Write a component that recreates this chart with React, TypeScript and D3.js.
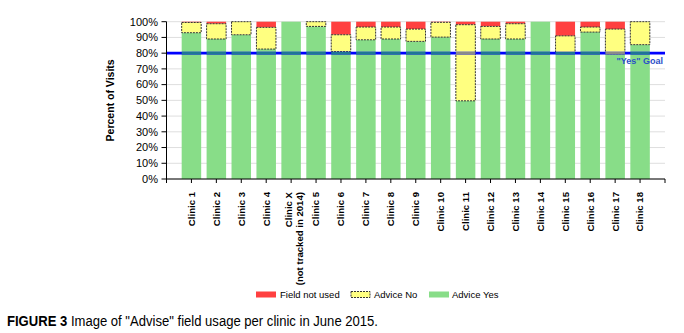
import React from "react";
import * as d3 from "d3";

const clinics = [
  "Clinic 1", "Clinic 2", "Clinic 3", "Clinic 4", "Clinic X|(not tracked in 2014)",
  "Clinic 5", "Clinic 6", "Clinic 7", "Clinic 8", "Clinic 9", "Clinic 10",
  "Clinic 11", "Clinic 12", "Clinic 13", "Clinic 14", "Clinic 15", "Clinic 16",
  "Clinic 17", "Clinic 18",
];
const adviceYes = [93, 89, 91.7, 82.6, 100, 97, 81, 88.5, 89, 87.5, 90.2, 49.7, 89, 89, 100, 80, 93.4, 79.6, 85.4];
const adviceNo = [6.5, 9.7, 8.3, 13.8, 0, 3, 10.7, 8.1, 7.6, 7.8, 9.4, 48.4, 8, 9.7, 0, 11, 3.2, 15.7, 14.6];
const fieldNotUsed = [0.5, 1.3, 0, 3.6, 0, 0, 8.3, 3.4, 3.4, 4.7, 0.4, 1.9, 3, 1.3, 0, 9, 3.4, 4.7, 0];
const yTicks = [0, 10, 20, 30, 40, 50, 60, 70, 80, 90, 100];
const goal = 80;

const GREEN = "#88DD88";
const YELLOW = "#FFFF80";
const RED = "#FF4040";

export default function App() {
  const left = 166.5, right = 665, top = 21.7, bottom = 179;
  const x = d3.scalePoint<string>().domain(clinics).range([left, right]).padding(1);
  const y = d3.scaleLinear().domain([0, 100]).range([bottom, top]);
  const bw = 19.5;
  const font = "Liberation Sans, Arial, sans-serif";

  return (
    <svg width={684} height={333} style={{ position: "absolute", left: 0, top: 0, background: "#fff" }} fontFamily={font}>
      {yTicks.map((t) => (
        <line key={"g" + t} x1={left} x2={right} y1={y(t)} y2={y(t)} stroke="#dedede" strokeWidth={1} />
      ))}
      {clinics.map((c, i) => {
        const cx = x(c)!;
        const y0 = 0, y1 = adviceYes[i], y2 = y1 + adviceNo[i], y3 = y2 + fieldNotUsed[i];
        return (
          <g key={c}>
            <rect x={cx - bw / 2} width={bw} y={y(y1)} height={y(y0) - y(y1)} fill={GREEN} />
            {fieldNotUsed[i] > 0 && (
              <rect x={cx - bw / 2} width={bw} y={y(y3)} height={y(y2) - y(y3)} fill={RED} />
            )}
            {adviceNo[i] > 0 && (
              <rect x={cx - bw / 2} width={bw} y={y(y2)} height={y(y1) - y(y2)} fill={YELLOW}
                stroke="#333" strokeWidth={1} strokeDasharray="2,1" />
            )}
          </g>
        );
      })}
      <line x1={left} x2={right} y1={y(goal)} y2={y(goal)} stroke="#0000FF" strokeWidth={2.6} />
      {clinics.map((c, i) => {
        const cx = x(c)!;
        const col = adviceYes[i] >= goal ? "#1f7596" : adviceYes[i] + adviceNo[i] >= goal ? "#8a8a8a" : null;
        if (!col) return null;
        return <line key={"s" + c} x1={cx - bw / 2} x2={cx + bw / 2} y1={y(goal)} y2={y(goal)} stroke={col} strokeWidth={2.6} />;
      })}
      <text x={663} y={y(goal) + 11} textAnchor="end" fontSize={9} fontWeight="bold" fill="#2b4fc8">"Yes" Goal</text>
      <line x1={left} x2={left} y1={top} y2={bottom + 4} stroke="#000" />
      {yTicks.map((t) => (
        <g key={"t" + t}>
          <line x1={left - 5} x2={left} y1={y(t)} y2={y(t)} stroke="#000" />
          <text x={158} y={y(t)} dy="0.35em" textAnchor="end" fontSize={11} fill="#000">{t}%</text>
        </g>
      ))}
      <text transform={`translate(114,${(top + bottom) / 2}) rotate(-90)`} textAnchor="middle" fontSize={10.5} fontWeight="bold">Percent of Visits</text>
      <line x1={left} x2={right} y1={bottom} y2={bottom} stroke="#000" />
      <line x1={right} x2={right} y1={bottom} y2={bottom + 4} stroke="#000" />
      {clinics.map((c) => {
        const cx = x(c)!;
        const lines = c.split("|");
        return (
          <g key={"x" + c}>
            <line x1={cx} x2={cx} y1={bottom} y2={bottom + 4} stroke="#000" />
            {lines.map((ln, j) => {
              const off = lines.length === 1 ? 0 : j === 0 ? -3 : 8.5;
              return (
                <text key={j} transform={`translate(${cx + off + 3.4},192) rotate(-90)`} textAnchor="end" fontSize={9.6} fontWeight="bold">{ln}</text>
              );
            })}
          </g>
        );
      })}
      <rect x={256} y={291.5} width={20} height={6} fill={RED} />
      <text x={280} y={297.5} fontSize={9.5}>Field not used</text>
      <rect x={351} y={291.5} width={19} height={6} fill={YELLOW} stroke="#333" strokeDasharray="2,1" />
      <text x={374} y={297.5} fontSize={9.5}>Advice No</text>
      <rect x={429} y={291.5} width={20} height={6} fill={GREEN} />
      <text x={452} y={297.5} fontSize={9.5}>Advice Yes</text>
      <text x={7} y={326} fontSize={14} textLength={371} lengthAdjust="spacingAndGlyphs">
        <tspan fontWeight="bold">FIGURE 3</tspan> Image of "Advise" field usage per clinic in June 2015.
      </text>
    </svg>
  );
}
